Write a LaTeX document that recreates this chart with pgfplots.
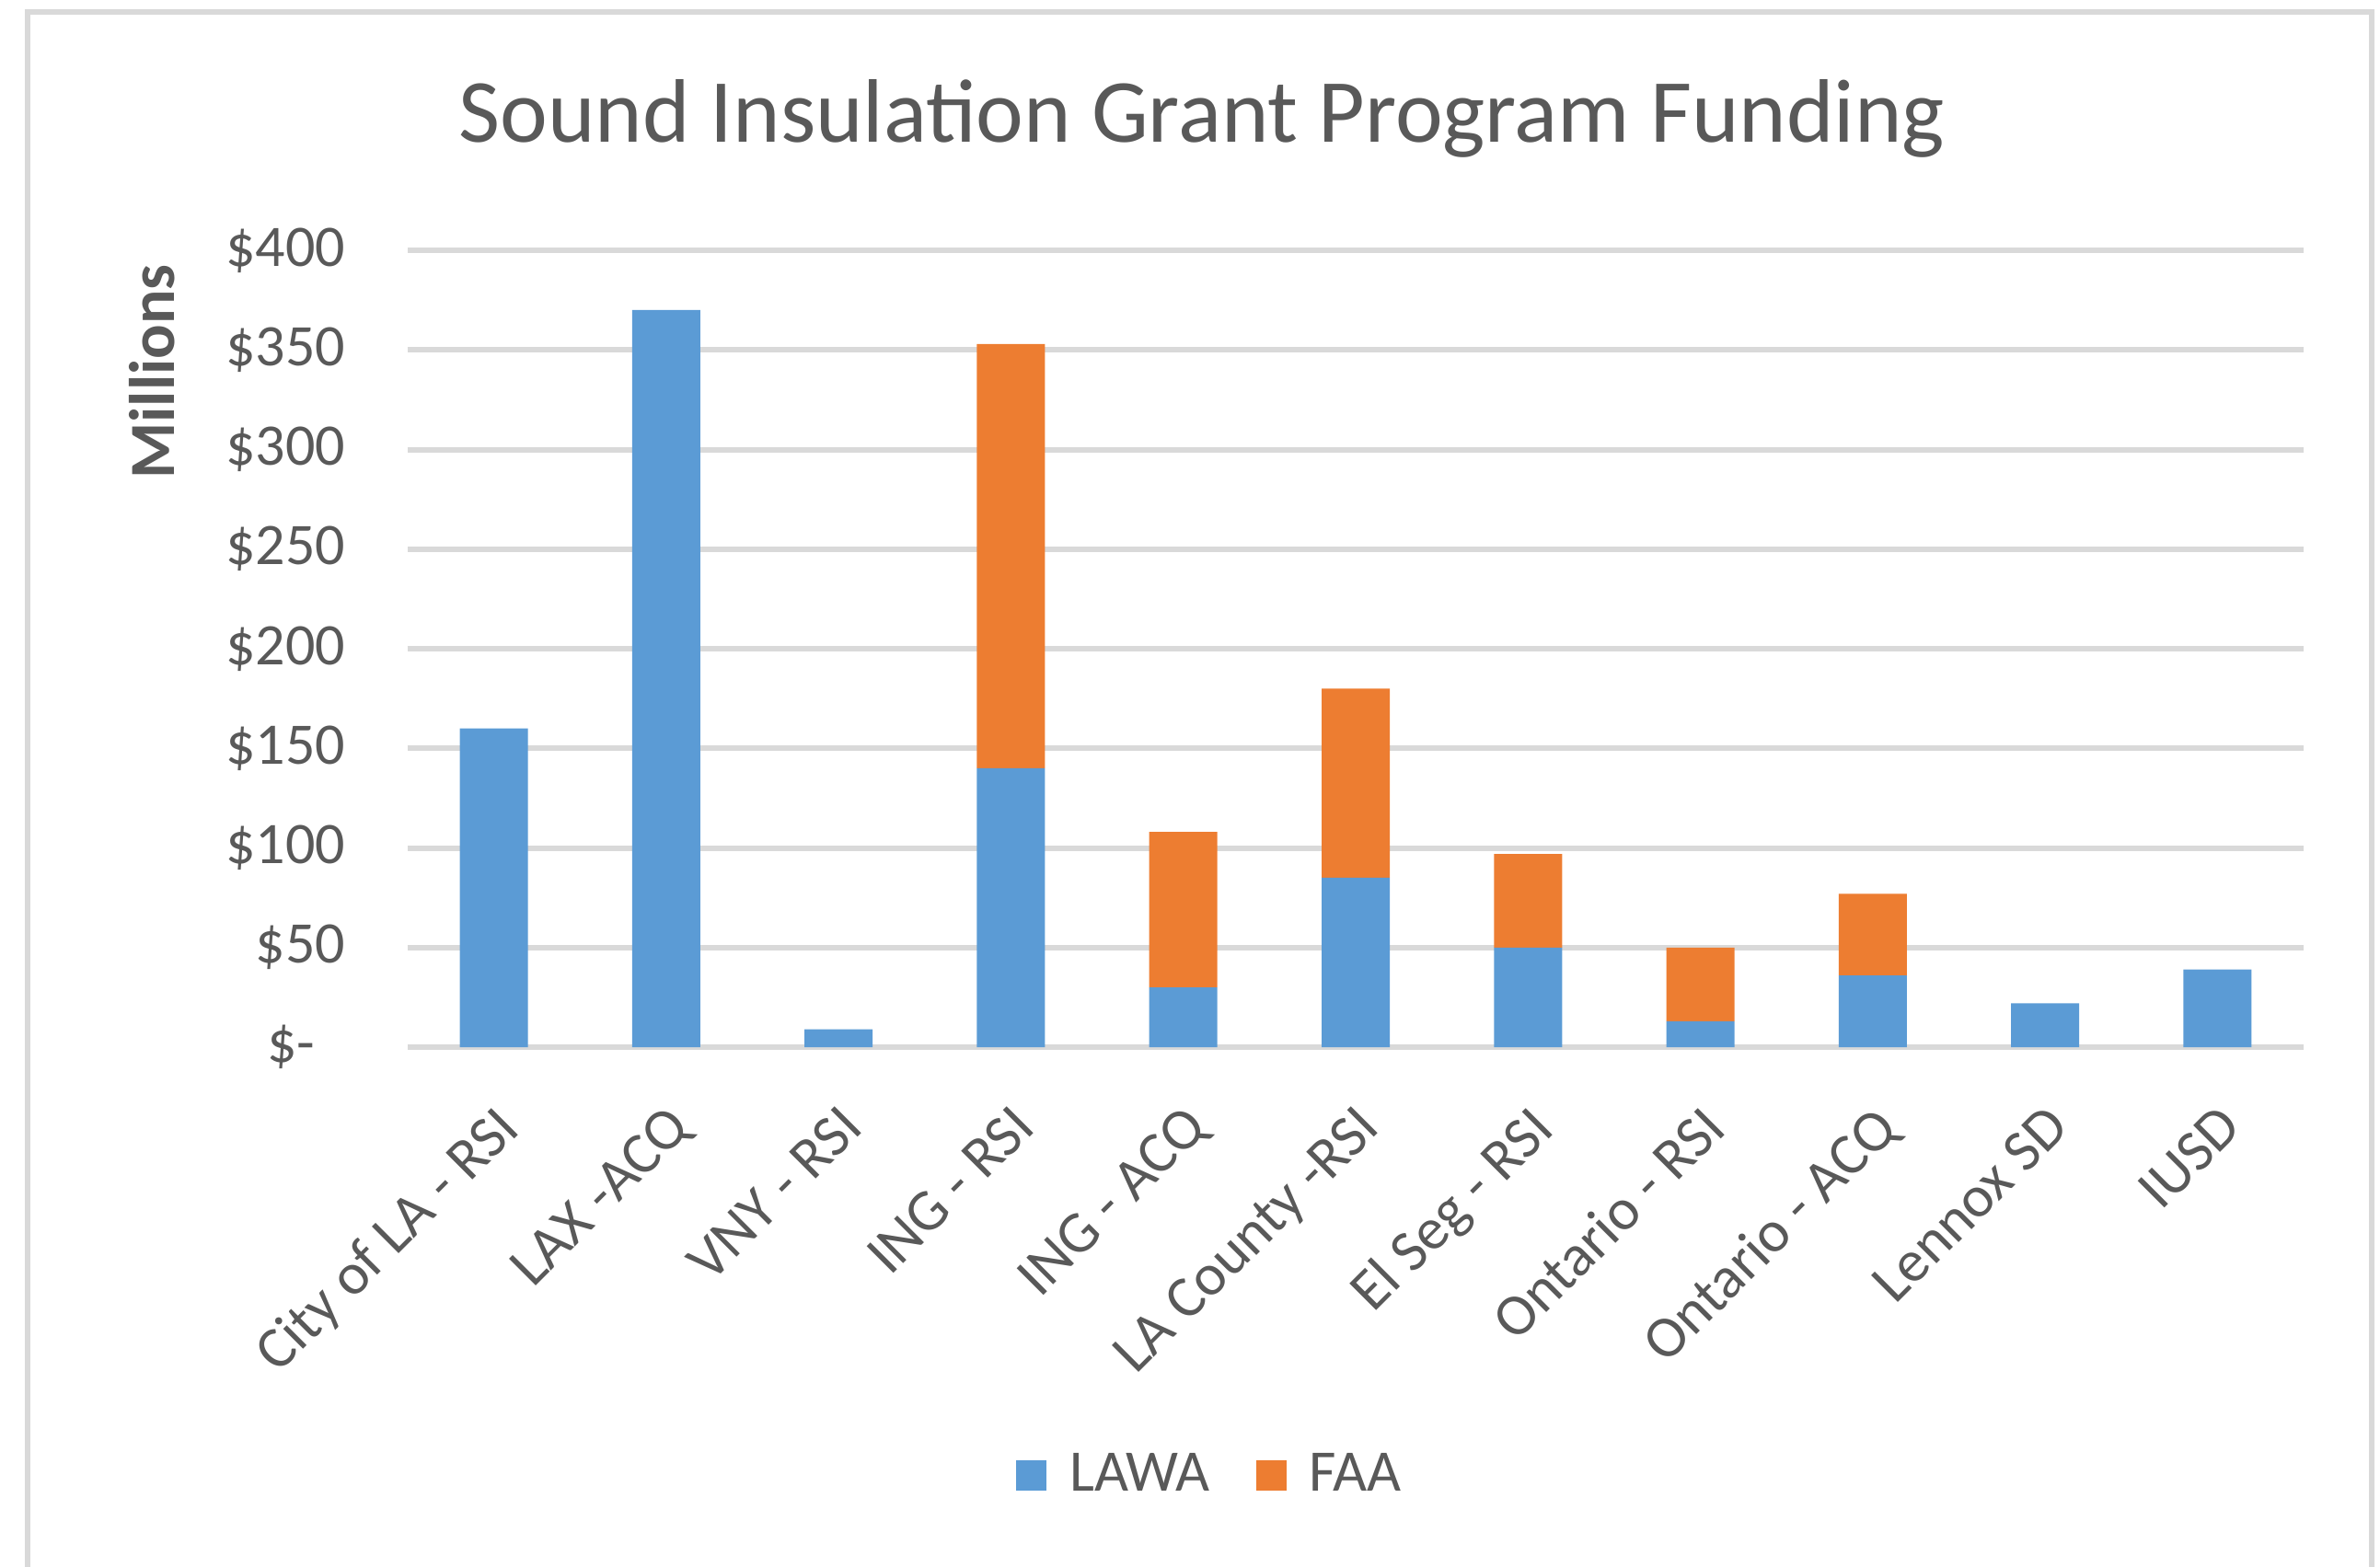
\documentclass[border=0pt]{standalone}
\usepackage{fontspec}
\setmainfont{Carlito}
\usepackage{pgfplots}
\pgfplotsset{compat=1.18}
\definecolor{lawa}{HTML}{5B9BD5}
\definecolor{faa}{HTML}{ED7D31}
\definecolor{gridgray}{HTML}{D9D9D9}
\definecolor{txt}{HTML}{595959}

\begin{document}
\begin{tikzpicture}
\path[use as bounding box] (-88.6pt,-112.8pt) rectangle (428.6pt,227.6pt);
% chart frame (bottom edge is cut off in the original)
\draw[gridgray, line width=1.2pt] (-82.6pt,-120pt) -- (-82.6pt,225pt) -- (426.8pt,225pt) -- (426.8pt,-120pt);
\begin{axis}[
  at={(0,0)}, anchor=south west,
  scale only axis,
  width=412pt, height=173.2pt,
  ybar stacked,
  bar width=14.8pt,
  xmin=-0.5, xmax=10.5,
  ymin=0, ymax=400,
  xtick={0,...,10},
  xticklabels={City of LA - RSI, LAX -ACQ, VNY - RSI, ING - RSI, ING - ACQ,
    LA County -RSI, El Seg - RSI, Ontario - RSI, Ontario - ACQ, Lennox SD, IUSD},
  ytick={0,50,...,400},
  yticklabels={\$-\hphantom{0},\$50,\$100,\$150,\$200,\$250,\$300,\$350,\$400},
  axis line style={draw=none},
  major tick length=0pt,
  ymajorgrids,
  major grid style={gridgray, line width=1.2pt},
  tick label style={font=\fontsize{12.8}{15}\selectfont, text=txt},
  y tick label style={inner sep=0pt, xshift=-13.4pt},
  % shifts act in the rotated frame
  x tick label style={rotate=45, anchor=north east, inner sep=0pt, xshift=-8.5pt, yshift=-8.2pt},
  legend style={at={(0.425,-0.538)}, anchor=center, draw=none,
    legend columns=-1, font=\fontsize{12.8}{15}\selectfont, text=txt,
    /tikz/every odd column/.append style={column sep=3pt},
    /tikz/every even column/.append style={column sep=8pt}},
  legend image code/.code={\fill[#1] (0pt,-3.3pt) rectangle (6.6pt,3.3pt);},
]
\addplot[fill=lawa, draw=none] coordinates {
(0,160) (1,370) (2,9) (3,140) (4,30) (5,85) (6,50) (7,13) (8,36) (9,22) (10,39)
};
\addlegendentry{LAWA}
\addplot[fill=faa, draw=none] coordinates {
(0,0) (1,0) (2,0) (3,213) (4,78) (5,95) (6,47) (7,37) (8,41) (9,0) (10,0)
};
\addlegendentry{FAA}
\end{axis}
\node[text=txt, font=\fontsize{19.6}{23}\selectfont] at (172.6pt,201.8pt) {Sound Insulation Grant Program Funding};
\node[rotate=90, text=txt, font=\fontsize{14}{17}\selectfont\bfseries] at (-55.6pt,146.8pt) {Millions};
\end{tikzpicture}
\end{document}
